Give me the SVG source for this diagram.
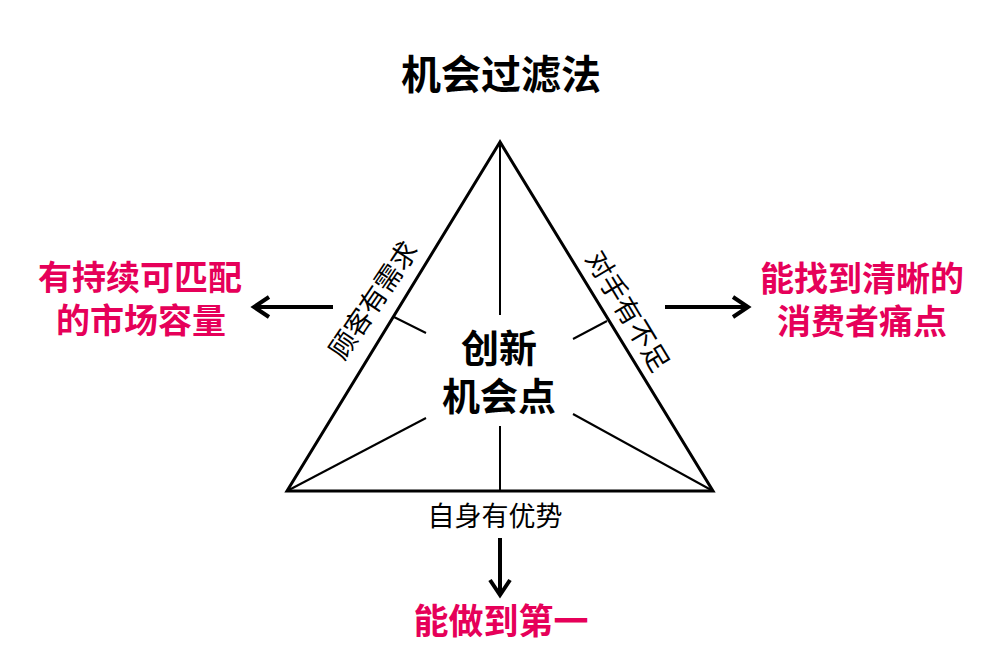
<svg xmlns="http://www.w3.org/2000/svg" width="999" height="648" viewBox="0 0 999 648">
<defs>
<style>
.bold{font-family:"Noto Sans CJK SC","Noto Sans",sans-serif;font-weight:bold;text-anchor:middle}
.reg{font-family:"Noto Sans CJK SC","Noto Sans",sans-serif;font-weight:normal;text-anchor:middle}
.red{fill:#E60059}
.blk{fill:#000}
.tri{fill:none;stroke:#000;stroke-width:3;stroke-linejoin:miter}
.inner{stroke:#000;stroke-width:2;fill:none}
.arrow{stroke:#000;stroke-width:4;fill:none;marker-end:url(#head)}
</style>
<marker id="head" viewBox="-20 -14 24 28" markerWidth="24" markerHeight="28" refX="0" refY="0" orient="auto" markerUnits="userSpaceOnUse">
<path d="M-15,-10 L0,0 L-15,10" fill="none" stroke="#000" stroke-width="4" stroke-linejoin="miter"/>
</marker>
</defs>
<rect width="999" height="648" fill="#fff"/>
<g id="title"><text class="bold blk" x="501" y="89" font-size="40">机会过滤法</text></g>
<g id="triangle">
<polygon class="tri" points="500,142 287,491 713,491"/>
<line class="inner" x1="500" y1="142" x2="500" y2="315"/>
<line class="inner" x1="500" y1="426" x2="500" y2="491"/>
<line class="inner" x1="287" y1="491" x2="426" y2="418"/>
<line class="inner" x1="713" y1="491" x2="573" y2="414"/>
<line class="inner" x1="394" y1="317" x2="426" y2="333"/>
<line class="inner" x1="607" y1="321" x2="573" y2="339"/>
</g>
<g id="center"><text class="bold blk" x="499" y="362" font-size="38">创新</text><text class="bold blk" x="499" y="410" font-size="38">机会点</text></g>
<g id="label-left"><text class="reg blk" font-size="27" transform="translate(373,300) rotate(-56)" y="10">顾客有需求</text></g>
<g id="label-right"><text class="reg blk" font-size="27" transform="translate(628,311) rotate(59)" y="10">对手有不足</text></g>
<g id="label-bottom"><text class="reg blk" x="495" y="526" font-size="27">自身有优势</text></g>
<g id="connectors">
<line class="arrow" x1="333" y1="307" x2="254" y2="307"/>
<line class="arrow" x1="665" y1="307" x2="748" y2="307"/>
<line class="arrow" x1="500" y1="538" x2="500" y2="595"/>
</g>
<g id="out-left"><text class="bold red" x="140" y="290" font-size="34">有持续可匹配</text><text class="bold red" x="141" y="333" font-size="34">的市场容量</text></g>
<g id="out-right"><text class="bold red" x="862" y="291" font-size="34">能找到清晰的</text><text class="bold red" x="862" y="334" font-size="34">消费者痛点</text></g>
<g id="out-bottom"><text class="bold red" x="501" y="634" font-size="35">能做到第一</text></g>
</svg>
